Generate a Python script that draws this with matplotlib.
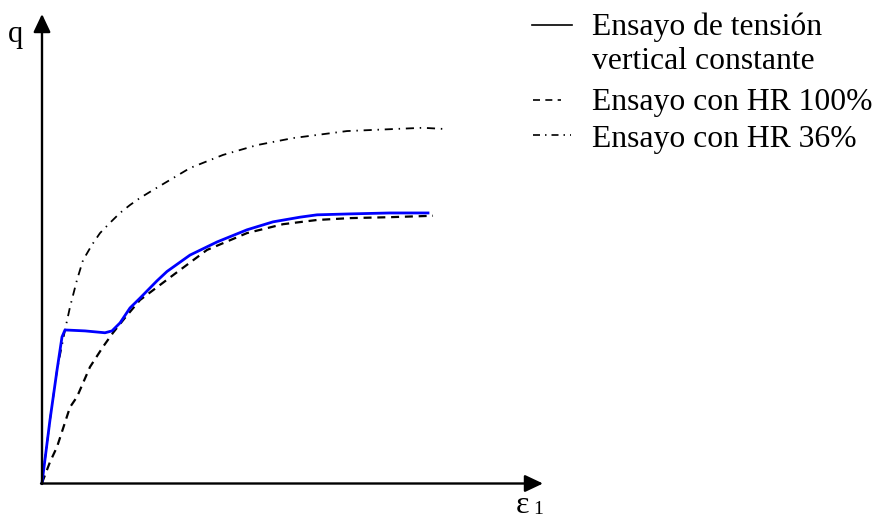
import matplotlib
matplotlib.use("Agg")
import matplotlib.pyplot as plt
from matplotlib.lines import Line2D

# Curves, normalised: strain 0..1 to x-arrow tip, q 0..1 to y-arrow tip
eps_const = [0, 0.016, 0.030, 0.040, 0.046, 0.086, 0.126, 0.140, 0.156, 0.176, 0.196,
             0.230, 0.250, 0.296, 0.350, 0.410, 0.462, 0.516, 0.550, 0.616, 0.696, 0.772]
q_const = [0, 0.135, 0.241, 0.312, 0.327, 0.325, 0.321, 0.325, 0.342, 0.374, 0.395,
           0.432, 0.452, 0.487, 0.515, 0.541, 0.558, 0.568, 0.573, 0.575, 0.577, 0.577]

eps_hr100 = [0, 0.016, 0.030, 0.056, 0.070, 0.096, 0.122, 0.142, 0.166, 0.196, 0.262,
             0.330, 0.410, 0.482, 0.550, 0.616, 0.696, 0.782]
q_hr100 = [0, 0.045, 0.077, 0.162, 0.184, 0.248, 0.291, 0.321, 0.353, 0.391, 0.444,
           0.498, 0.534, 0.553, 0.562, 0.566, 0.568, 0.571]

eps_hr36 = [0, 0.016, 0.030, 0.046, 0.056, 0.070, 0.082, 0.100, 0.116, 0.136, 0.156,
            0.176, 0.196, 0.222, 0.296, 0.362, 0.430, 0.502, 0.610, 0.696, 0.762, 0.812]
q_hr36 = [0, 0.135, 0.241, 0.327, 0.376, 0.434, 0.476, 0.509, 0.534, 0.556, 0.577,
          0.594, 0.609, 0.626, 0.673, 0.701, 0.722, 0.737, 0.752, 0.756, 0.759, 0.756]

legend_rows = [["Ensayo de tensión", "vertical constante"],
               ["Ensayo con HR 100%"],
               ["Ensayo con HR 36%"]]

SERIF = "Liberation Serif"
W, H = 877, 519

fig = plt.figure(figsize=(W / 100, H / 100), dpi=100)

# main plotting area, origin at pixel (42, 483), arrow tips at x=542 and y=15
ax = fig.add_axes([42 / W, (H - 483) / H, 500 / W, 468 / H])
ax.set_xlim(0, 1)
ax.set_ylim(0, 1)
ax.axis("off")

ax.plot(eps_hr36, q_hr36, color="black", lw=1.3, dashes=(4.5, 3.2, 0.8, 3.2),
        clip_on=False)
ax.plot(eps_hr100, q_hr100, color="black", lw=1.6, dashes=(3.6, 2.6),
        clip_on=False)
ax.plot(eps_const, q_const, color="#0000ff", lw=2.0, clip_on=False,
        solid_joinstyle="round")

# overlay in pixel coords for arrows, labels and the hand-made legend
ov = fig.add_axes([0, 0, 1, 1])
ov.set_xlim(0, W)
ov.set_ylim(H, 0)
ov.axis("off")

arrow = dict(arrowstyle="-|>,head_length=0.55,head_width=0.26",
             mutation_scale=20, lw=1.7, color="black", shrinkA=0, shrinkB=0)
ov.annotate("", xy=(42, 14), xytext=(42, 484), arrowprops=arrow)
ov.annotate("", xy=(543, 483.5), xytext=(41, 483.5), arrowprops=arrow)

ov.text(8, 42, "q", fontsize=22, family=SERIF, va="baseline", ha="left")
ov.text(516, 513, "ε", fontsize=23, family=SERIF, va="baseline", ha="left")
ov.text(533, 514, "1", fontsize=14, family=SERIF, va="baseline", ha="left")

# legend
ov.add_line(Line2D([532, 572], [25, 25], color="black", lw=1.2))
ov.add_line(Line2D([533, 561], [100, 100], color="black", lw=1.2,
                   dashes=(4.2, 3.2)))
ov.add_line(Line2D([533, 571], [135, 135], color="black", lw=1.2,
                   dashes=(4.2, 3.0, 0.9, 3.0)))

baselines = [[35, 69], [110], [147]]
for rows, ys in zip(legend_rows, baselines):
    for txt, y in zip(rows, ys):
        ov.text(592, y, txt, fontsize=22.8, family=SERIF, va="baseline",
                ha="left")

fig.savefig("out.png", dpi=100)
